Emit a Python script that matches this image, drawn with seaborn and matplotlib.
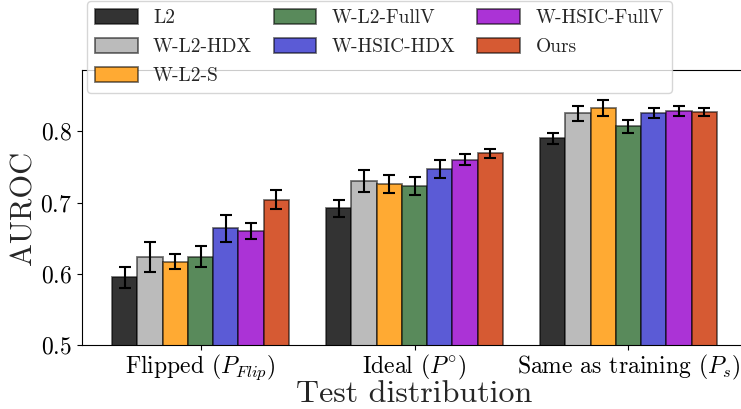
import pandas as pd
import matplotlib
matplotlib.use("Agg")
import matplotlib.pyplot as plt
import seaborn as sns

methods = ['L2', 'W-L2-HDX', 'W-L2-S', 'W-L2-FullV', 'W-HSIC-HDX', 'W-HSIC-FullV', 'Ours']
groups  = [r'Flipped ($P_{Flip}$)', r'Ideal ($P^{\circ}$)', r'Same as training ($P_s$)']
colors  = ['#333333', '#bbbbbb', '#ffaa33', '#598a5b', '#5b5bd6', '#ab33d6', '#d65a33']

auroc_flip  = [0.595, 0.624, 0.617, 0.624, 0.664, 0.660, 0.704]
err_flip    = [0.015, 0.021, 0.011, 0.015, 0.019, 0.011, 0.013]
auroc_ideal = [0.692, 0.730, 0.726, 0.723, 0.747, 0.760, 0.769]
err_ideal   = [0.012, 0.015, 0.013, 0.013, 0.012, 0.008, 0.006]
auroc_same  = [0.790, 0.825, 0.833, 0.807, 0.826, 0.829, 0.827]
err_same    = [0.008, 0.010, 0.011, 0.009, 0.007, 0.007, 0.005]

rows = []
for g, vals, errs in zip(groups, [auroc_flip, auroc_ideal, auroc_same],
                         [err_flip, err_ideal, err_same]):
    for m, v, e in zip(methods, vals, errs):
        rows.append({'group': g, 'method': m, 'auroc': v, 'err': e})
df = pd.DataFrame(rows)

sns.set_style('ticks')
plt.rcParams['font.family'] = ['cmr10']
plt.rcParams['mathtext.fontset'] = 'cm'
plt.rcParams['axes.unicode_minus'] = False
plt.rcParams['axes.formatter.use_mathtext'] = True

fig = plt.figure(figsize=(7.41, 4.09), dpi=100)
ax = fig.add_axes([82 / 741, 1 - 345 / 409, (747 - 82) / 741, (345 - 70) / 409])

sns.barplot(data=df, x='group', y='auroc', hue='method', hue_order=methods,
            palette=colors, saturation=1, width=0.825, errorbar=None, ax=ax,
            edgecolor=(0, 0, 0, 0.55), linewidth=1.3)

for m, cont in zip(methods, ax.containers):
    sub = df[df['method'] == m]
    xs = [b.get_x() + b.get_width() / 2 for b in cont]
    ax.errorbar(xs, sub['auroc'], yerr=sub['err'], fmt='none',
                ecolor='black', elinewidth=1.5, capsize=4, capthick=1.5)

ax.set_xlim(-0.554, 2.554)
ax.set_ylim(0.5, 0.886)
ax.set_yticks([0.5, 0.6, 0.7, 0.8])
ax.tick_params(axis='both', labelsize=17, colors='black')
ax.tick_params(axis='x', pad=2)
ax.set_xlabel('Test distribution', fontsize=23, labelpad=-1)
ax.set_ylabel('AUROC', fontsize=22, labelpad=2)
for s in ax.spines.values():
    s.set_color('black')

ax.legend(ncol=3, fontsize=14, loc='lower left',
          bbox_to_anchor=(87 / 741, 1 - 93 / 409), bbox_transform=fig.transFigure,
          borderaxespad=0, columnspacing=1.1, handlelength=2.2, handleheight=0.8,
          labelspacing=0.55)

fig.savefig('out.png', dpi=100)
